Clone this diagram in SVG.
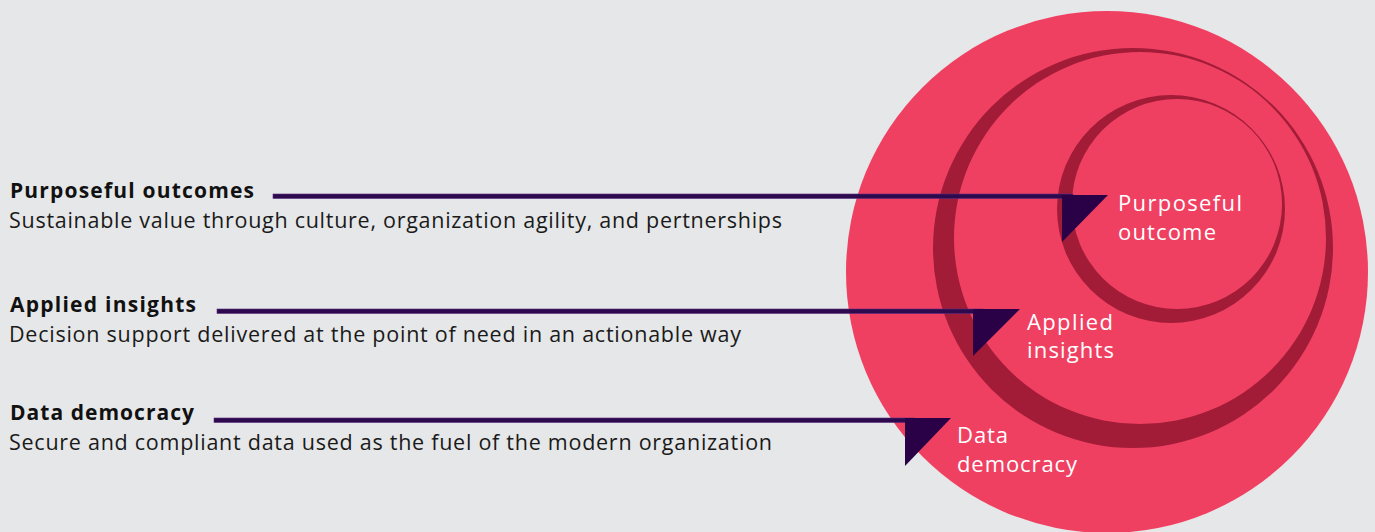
<svg xmlns="http://www.w3.org/2000/svg" width="1375" height="532" viewBox="0 0 1375 532">
  <style>
    .title { font-family: "Open Sans", "Noto Sans", sans-serif; font-weight: 700; font-size: 21px; fill: #111; }
    .desc { font-family: "Open Sans", "Noto Sans", sans-serif; font-size: 21.5px; fill: #1a1a1a; }
    .lbl { font-family: "Open Sans", "Noto Sans", sans-serif; font-size: 22px; fill: #ffffff; }
    .pink { fill: #f04062; }
    .dark { fill: #a21c38; }
    .bar { fill: #2d0a4e; stroke: #5b2c7e; stroke-width: 0.6; }
    .tip { fill: #2a0046; }
  </style>
  <rect width="1375" height="532" fill="#e6e7e8"/>

  <!-- concentric layers -->
  <g id="layer-data-democracy">
    <circle class="pink" cx="1107" cy="272" r="261"/>
  </g>
  <g id="layer-applied-insights">
    <circle class="dark" cx="1133" cy="248" r="200"/>
    <circle class="pink" cx="1140" cy="238" r="186"/>
  </g>
  <g id="layer-purposeful-outcome">
    <circle class="dark" cx="1171" cy="209" r="114"/>
    <circle class="pink" cx="1177" cy="204" r="105"/>
  </g>

  <!-- pointers from descriptions into the layers -->
  <g id="connectors">
    <rect class="bar" x="273" y="194" width="800" height="4.5"/>
    <polygon class="tip" points="1062,195 1108,195 1062,242"/>
    <rect class="bar" x="217" y="309" width="766" height="4.5"/>
    <polygon class="tip" points="973,309 1020,309 973,356"/>
    <rect class="bar" x="214" y="418" width="700" height="4.5"/>
    <polygon class="tip" points="905,418 951,418 905,466"/>
  </g>

  <!-- layer labels -->
  <g id="label-purposeful">
    <text class="lbl" x="1118" y="211" textLength="124">Purposeful</text>
    <text class="lbl" x="1118" y="240" textLength="98">outcome</text>
  </g>
  <g id="label-applied">
    <text class="lbl" x="1027" y="330" textLength="86">Applied</text>
    <text class="lbl" x="1027" y="358" textLength="87">insights</text>
  </g>
  <g id="label-data">
    <text class="lbl" x="957" y="443" textLength="51">Data</text>
    <text class="lbl" x="957" y="472" textLength="120">democracy</text>
  </g>

  <!-- descriptions -->
  <g id="desc-purposeful">
    <text class="title" x="10" y="198" textLength="244">Purposeful outcomes</text>
    <text class="desc" x="9" y="228" textLength="773">Sustainable value through culture, organization agility, and pertnerships</text>
  </g>
  <g id="desc-applied">
    <text class="title" x="10" y="312" textLength="186">Applied insights</text>
    <text class="desc" x="9" y="342" textLength="732">Decision support delivered at the point of need in an actionable way</text>
  </g>
  <g id="desc-data">
    <text class="title" x="10" y="420" textLength="184">Data democracy</text>
    <text class="desc" x="9" y="450" textLength="763">Secure and compliant data used as the fuel of the modern organization</text>
  </g>
</svg>
